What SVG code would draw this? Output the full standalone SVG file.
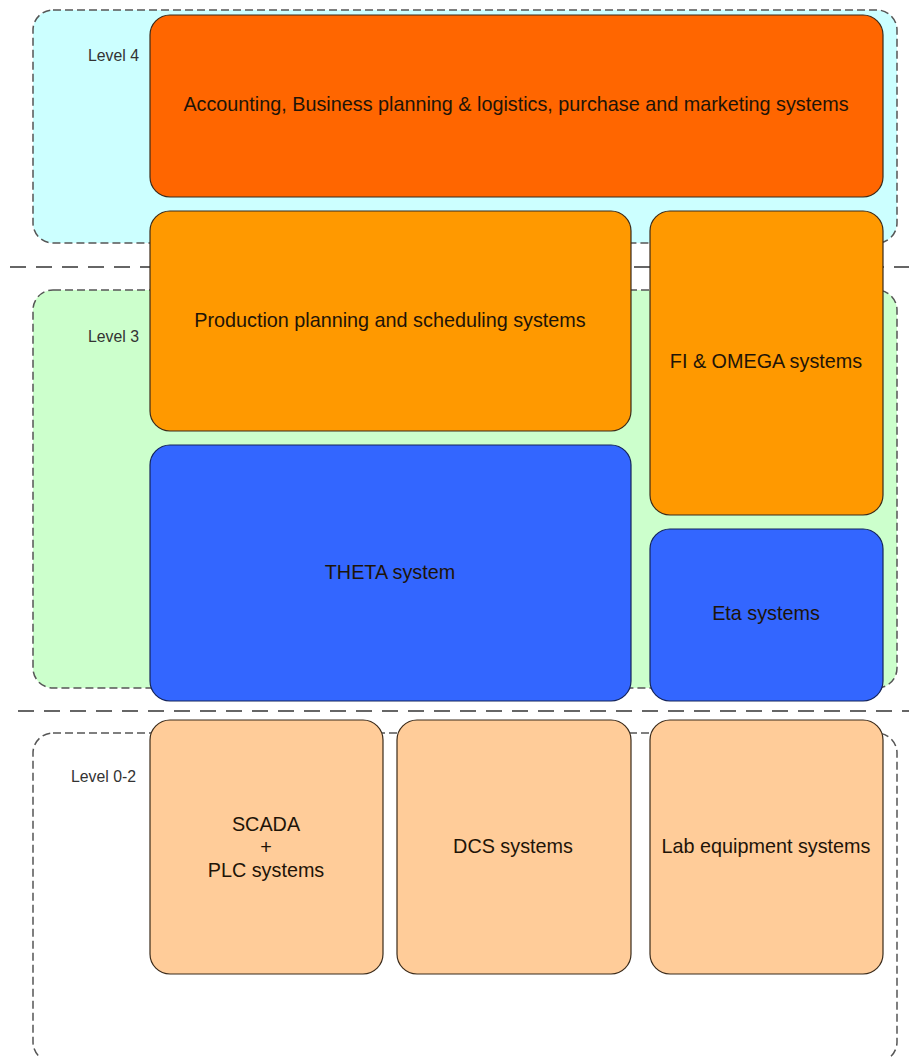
<svg xmlns="http://www.w3.org/2000/svg" width="909" height="1057" viewBox="0 0 909 1057">
  <style>
    .zone { stroke: #555; stroke-width: 1.5; stroke-dasharray: 8 4; }
    .sep { stroke: #666; stroke-width: 2; stroke-dasharray: 16 10; fill: none; }
    .box { stroke: #3a2a1a; stroke-width: 1.2; }
    .blue { stroke: #14245a; }
    .lbl { font-family: "Liberation Sans", Arial, sans-serif; font-size: 19.8px; fill: #1e1408; text-anchor: middle; dominant-baseline: central; }
    .lvl { font-family: "Liberation Sans", Arial, sans-serif; font-size: 15.8px; fill: #333; text-anchor: end; dominant-baseline: central; }
  </style>

  <!-- level zones -->
  <g id="zone-level4">
    <rect class="zone" x="33" y="10" width="864" height="233" rx="20" fill="#CCFFFF"/>
    <text class="lvl" x="139" y="55">Level 4</text>
  </g>
  <g id="zone-level3">
    <rect class="zone" x="33" y="290" width="864" height="398" rx="20" fill="#CCFFCC"/>
    <text class="lvl" x="139" y="336">Level 3</text>
  </g>
  <g id="zone-level02">
    <rect class="zone" x="33" y="733" width="864" height="329" rx="20" fill="#FFFFFF"/>
    <text class="lvl" x="136" y="776">Level 0-2</text>
  </g>

  <!-- level separators -->
  <g id="connectors">
    <line class="sep" x1="10" y1="267" x2="909" y2="267"/>
    <line class="sep" x1="18" y1="711" x2="909" y2="711"/>
  </g>

  <g id="accounting">
    <rect class="box" x="150" y="15" width="733" height="182" rx="20" fill="#FF6600"/>
    <text class="lbl" x="516" y="104">Accounting, Business planning &amp; logistics, purchase and marketing systems</text>
  </g>
  <g id="production">
    <rect class="box" x="150" y="211" width="481" height="220" rx="20" fill="#FF9900"/>
    <text class="lbl" x="390" y="320">Production planning and scheduling systems</text>
  </g>
  <g id="fi-omega">
    <rect class="box" x="650" y="211" width="233" height="304" rx="20" fill="#FF9900"/>
    <text class="lbl" x="766" y="361">FI &amp; OMEGA systems</text>
  </g>
  <g id="theta">
    <rect class="box blue" x="150" y="445" width="481" height="256" rx="20" fill="#3366FF"/>
    <text class="lbl" x="390" y="572">THETA system</text>
  </g>
  <g id="eta">
    <rect class="box blue" x="650" y="529" width="233" height="172" rx="20" fill="#3366FF"/>
    <text class="lbl" x="766" y="613">Eta systems</text>
  </g>
  <g id="scada-plc">
    <rect class="box" x="150" y="720" width="233" height="254" rx="20" fill="#FFCC99"/>
    <text class="lbl" x="266" y="824">SCADA</text>
    <text class="lbl" x="266" y="847">+</text>
    <text class="lbl" x="266" y="870">PLC systems</text>
  </g>
  <g id="dcs">
    <rect class="box" x="397" y="720" width="234" height="254" rx="20" fill="#FFCC99"/>
    <text class="lbl" x="513" y="846">DCS systems</text>
  </g>
  <g id="lab">
    <rect class="box" x="650" y="720" width="233" height="254" rx="20" fill="#FFCC99"/>
    <text class="lbl" x="766" y="846">Lab equipment systems</text>
  </g>
</svg>
